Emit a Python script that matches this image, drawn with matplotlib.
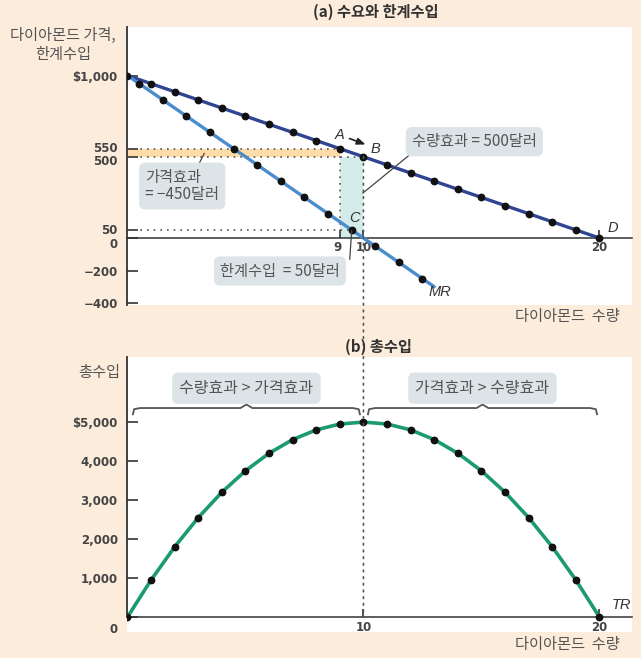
import matplotlib
matplotlib.use('Agg')
import matplotlib.pyplot as plt
from matplotlib.patches import Rectangle, ConnectionPatch
from matplotlib.transforms import ScaledTranslation

KR = ['Noto Sans CJK KR', 'DejaVu Sans']
plt.rcParams['font.family'] = KR

# ---------------- data ----------------
quantity = [0, 1, 2, 3, 4, 5, 6, 7, 8, 9, 10, 11, 12, 13, 14, 15, 16, 17, 18, 19, 20]
price = [1000, 950, 900, 850, 800, 750, 700, 650, 600, 550, 500,
         450, 400, 350, 300, 250, 200, 150, 100, 50, 0]
mr_quantity = [0.5, 1.5, 2.5, 3.5, 4.5, 5.5, 6.5, 7.5, 8.5, 9.5, 10.5, 11.5, 12.5]
mr_values = [950, 850, 750, 650, 550, 450, 350, 250, 150, 50, -50, -150, -250]
mr_line_q = [0, 13]
mr_line_v = [1000, -300]
total_revenue = [0, 950, 1800, 2550, 3200, 3750, 4200, 4550, 4800, 4950, 5000,
                 4950, 4800, 4550, 4200, 3750, 3200, 2550, 1800, 950, 0]

top_yticks = [1000, 550, 500, 50, 0, -200, -400]
top_ylabels = ['$1,000', '550', '500', '50', '0', '\u2212200', '\u2212400']
top_xticks = [9, 10, 20]
top_xlabels = ['9', '10', '20']
bot_yticks = [0, 1000, 2000, 3000, 4000, 5000]
bot_ylabels = ['0', '1,000', '2,000', '3,000', '4,000', '$5,000']
bot_xticks = [10, 20]
bot_xlabels = ['10', '20']

# ---------------- style ----------------
BG = '#fcecdb'
NAVY = '#2f4592'
LBLUE = '#4a8ccc'
GREEN = '#1c9a70'
BOX = '#dce4e7'
TXT = '#444444'
LAB = '#555555'
ORANGE = '#fddcaa'
TEAL = '#d3ecea'

fig = plt.figure(figsize=(6.41, 6.58), dpi=100, facecolor=BG)

ax1 = fig.add_axes([0.1989, 0.537, 0.787, 0.4223])
ax2 = fig.add_axes([0.1989, 0.0395, 0.787, 0.418])

for ax in (ax1, ax2):
    ax.set_facecolor('white')
    for s in ('top', 'right'):
        ax.spines[s].set_visible(False)
    ax.spines['left'].set_color('#333333')
    ax.spines['left'].set_linewidth(1.3)
    ax.spines['bottom'].set_color('#333333')
    ax.spines['bottom'].set_linewidth(1.1)
    ax.set_xlim(0, 21.38)

tickfont = dict(family='DejaVu Sans', weight='bold', size=8.5)

# ---------------- panel (a) ----------------
ax1.set_ylim(-410, 1300)
ax1.spines['bottom'].set_position(('data', 0))

ax1.add_patch(Rectangle((0, price[10]), 9, price[9] - price[10], fc=ORANGE, ec='none', zorder=1))
ax1.add_patch(Rectangle((9, 0), 1, price[10], fc=TEAL, ec='none', zorder=1))

dot = (0, (1, 3))
ax1.plot([0, 9], [price[9], price[9]], ls=dot, color='#555555', lw=1.2, zorder=2)
ax1.plot([0, 10], [price[10], price[10]], ls=dot, color='#555555', lw=1.2, zorder=2)
ax1.plot([0, 9.5], [mr_values[9], mr_values[9]], ls=dot, color='#555555', lw=1.2, zorder=2)
ax1.plot([9, 9], [0, price[9]], ls=dot, color='#555555', lw=1.2, zorder=2)

ax1.plot(quantity, price, color=NAVY, lw=2.4, zorder=3, solid_capstyle='round')
ax1.plot(mr_line_q, mr_line_v, color=LBLUE, lw=2.4, zorder=3, solid_capstyle='round')
ax1.plot(quantity, price, 'o', color='#111111', ms=4.6, zorder=4)
ax1.plot(mr_quantity, mr_values, 'o', color='#111111', ms=4.6, zorder=4)

ax1.set_yticks(top_yticks)
ax1.set_yticklabels(top_ylabels, color=TXT, **tickfont)
ax1.set_xticks(top_xticks)
ax1.set_xticklabels(top_xlabels, color=TXT, **tickfont)
ax1.tick_params(axis='y', direction='in', length=8, width=1.2, color='#333333', pad=7)
ax1.tick_params(axis='x', direction='in', length=6, width=1.2, color='#333333', pad=2)

offs = {'550': 2, '500': -3, '50': 1, '0': -5}
for lab in ax1.get_yticklabels():
    dy = offs.get(lab.get_text(), 0)
    if dy:
        lab.set_transform(lab.get_transform() + ScaledTranslation(0, dy / 100, fig.dpi_scale_trans))
for lab in ax1.get_xticklabels():
    if lab.get_text() == '9':
        lab.set_transform(lab.get_transform() + ScaledTranslation(-2 / 100, 0, fig.dpi_scale_trans))

ital = dict(family=['Liberation Sans', 'DejaVu Sans'], style='italic', size=10.5, color='#333333')
ax1.text(8.97, 634, 'A', ha='center', va='center', **ital)
ax1.text(10.5, 548, 'B', ha='center', va='center', **ital)
ax1.text(9.6, 125, 'C', ha='center', va='center', **ital)
ax1.text(20.55, 60, 'D', ha='center', va='center', **ital)
ax1.text(13.25, -330, 'MR', ha='center', va='center', **ital)
ax1.annotate('', xy=(10.2, 570), xytext=(9.3, 618),
             arrowprops=dict(arrowstyle='-|>,head_length=0.5,head_width=0.2', color='#222222', lw=1.2),
             zorder=5)

bbox = dict(boxstyle='round,pad=0.4,rounding_size=0.4', fc=BOX, ec='none')
boxfont = dict(fontsize=11, color=LAB)
ax1.text(14.7, 593, '수량효과 = 500달러', ha='center', va='center', bbox=bbox, zorder=6, **boxfont)
ax1.plot([9.98, 11.9], [277, 505], color='#444444', lw=0.9, zorder=5)
ax1.text(0.75, 320, '가격효과\n= \u2212450달러', ha='left', va='center',
         linespacing=1.05, bbox=bbox, zorder=6, **boxfont)
ax1.plot([2.85, 3.25], [405, 520], color='#444444', lw=0.9, zorder=5)
ax1.text(6.46, -203, '한계수입  = 50달러', ha='center', va='center', bbox=bbox, zorder=6, **boxfont)
ax1.plot([9.42, 9.5], [-130, 45], color='#444444', lw=0.9, zorder=5)

# ---------------- panel (b) ----------------
ax2.set_ylim(-385, 6670)
ax2.spines['bottom'].set_position(('data', 0))
ax2.spines['left'].set_bounds(0, 6670)

ax2.plot(quantity, total_revenue, color=GREEN, lw=2.6, zorder=3, solid_capstyle='round')
ax2.plot(quantity, total_revenue, 'o', color='#111111', ms=4.6, zorder=4)

ax2.set_yticks(bot_yticks)
ax2.set_yticklabels(bot_ylabels, color=TXT, **tickfont)
ax2.set_xticks(bot_xticks)
ax2.set_xticklabels(bot_xlabels, color=TXT, **tickfont)
ax2.tick_params(axis='y', direction='in', length=8, width=1.2, color='#333333', pad=7)
ax2.tick_params(axis='x', direction='in', length=6, width=1.2, color='#333333', pad=3)
for lab in ax2.get_yticklabels():
    if lab.get_text() == '0':
        lab.set_transform(lab.get_transform() + ScaledTranslation(0, -11 / 100, fig.dpi_scale_trans))

ax2.text(20.95, 310, 'TR', ha='center', va='center', **ital)

# braces
brace_spans = [(0.23, 9.85), (10.19, 19.9)]
brace_labels = ['수량효과>가격효과', '가격효과>수량효과']
y_line, y_end, y_tip = 5360, 5200, 5450
for (x0, x1), lab in zip(brace_spans, brace_labels):
    xm = (x0 + x1) / 2
    r = 0.3
    xs = [x0, x0 + 0.05, x0 + r, xm - 0.25, xm, xm + 0.25, x1 - r, x1 - 0.05, x1]
    ys = [y_end, y_line - 30, y_line, y_line, y_tip, y_line, y_line, y_line - 30, y_end]
    ax2.plot(xs, ys, color='#555555', lw=1.3, zorder=3, solid_joinstyle='round')
    ax2.text(xm, 5870, lab.replace('>', ' > '), ha='center', va='center', fontsize=11.5, color=LAB,
             bbox=dict(boxstyle='round,pad=0.45,rounding_size=0.4', fc=BOX, ec='none'), zorder=6)

# vertical dotted line across both panels at Q = 10
con = ConnectionPatch(xyA=(10, price[10]), coordsA=ax1.transData,
                      xyB=(10, 0), coordsB=ax2.transData,
                      linestyle=(0, (1, 3)), color='#555555', lw=1.2, zorder=2)
fig.add_artist(con)

# ---------------- figure texts ----------------
fig.text(376 / 641, 1 - 12 / 658, '(a) 수요와 한계수입', ha='center', va='center', fontsize=11, weight='bold', color='#333333')
fig.text(378 / 641, 1 - 347 / 658, '(b) 총수입', ha='center', va='center', fontsize=11, weight='bold', color='#333333')
fig.text(63 / 641, 1 - 45 / 658, '다이아몬드 가격,\n한계수입', ha='center', va='center', fontsize=11,
         weight='medium', color=LAB, linespacing=1.15)
fig.text(120 / 641, 1 - 372 / 658, '총수입', ha='right', va='center', fontsize=11, weight='medium', color=LAB)
fig.text(620 / 641, 1 - 317 / 658, '다이아몬드  수량', ha='right', va='center', fontsize=11, weight='medium', color=LAB)
fig.text(620 / 641, 1 - 645 / 658, '다이아몬드  수량', ha='right', va='center', fontsize=11, weight='medium', color=LAB)

fig.savefig('out.png', dpi=100, facecolor=BG)
